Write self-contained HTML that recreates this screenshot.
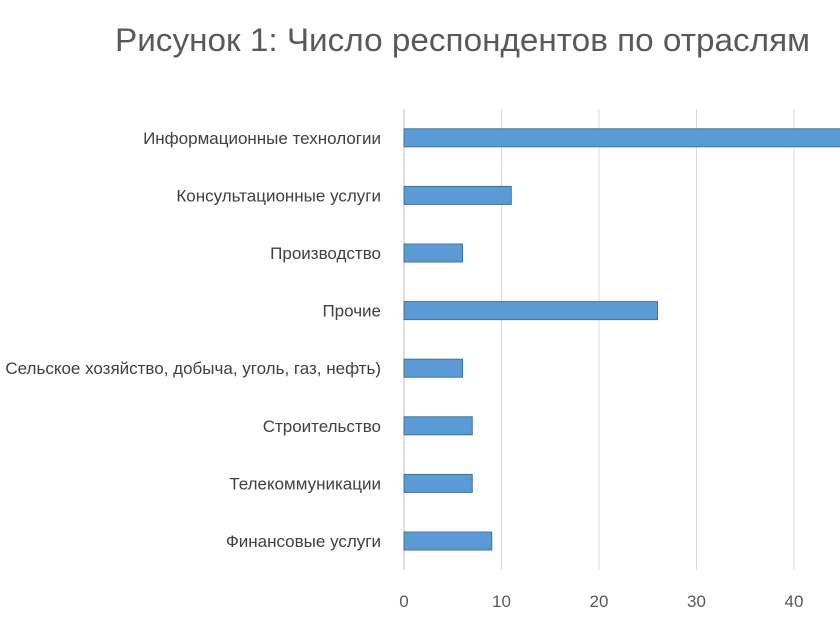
<!DOCTYPE html>
<html><head><meta charset="utf-8"><style>
body{margin:0;background:#fff;}
svg{display:block;font-family:"Liberation Sans","DejaVu Sans",sans-serif;}
</style></head><body>
<svg id="chart" width="840" height="640" viewBox="0 0 840 640">
<text x="115" y="51" font-size="32" fill="#595959" textLength="695" lengthAdjust="spacingAndGlyphs">Рисунок 1: Число респондентов по отраслям</text>
<g id="grid"></g><g id="bars"></g><g id="labels"></g><g id="ticks"></g>
</svg>
<script>
const categories=["Информационные технологии","Консультационные услуги","Производство","Прочие","Сельское хозяйство, добыча, уголь, газ, нефть)","Строительство","Телекоммуникации","Финансовые услуги"];
const values=[46,11,6,26,6,7,7,9];
const tickValues=[0,10,20,30,40];
const NS="http://www.w3.org/2000/svg";
const x0=404,pxPer=9.75,plotTop=109,band=57.6,barH=18;
const xs=v=>x0+v*pxPer;
const yc=i=>plotTop+band*(i+0.5);
function mk(t,a,p){const e=document.createElementNS(NS,t);for(const k in a)e.setAttribute(k,a[k]);p.appendChild(e);return e;}
const grid=document.getElementById('grid'),bars=document.getElementById('bars'),labels=document.getElementById('labels'),ticks=document.getElementById('ticks');
tickValues.forEach(v=>{
 const l=mk('line',{x1:xs(v),x2:xs(v),y1:plotTop,y2:plotTop+band*categories.length,stroke:v===0?'#bfbfbf':'#d9d9d9','stroke-width':1},grid);
 
 
 const t=mk('text',{x:xs(v),y:607,'text-anchor':'middle','font-size':17,fill:'#595959'},ticks);
 t.textContent=v;
 
 
});
categories.forEach((c,i)=>{
 const r=mk('rect',{x:xs(0),y:yc(i)-barH/2,width:xs(values[i])-xs(0),height:barH,fill:'#5b9bd5',stroke:'#41719c','stroke-width':1},bars);
 
 
 const t=mk('text',{x:381,y:yc(i)+6,'text-anchor':'end','font-size':17,fill:'#404040'},labels);
 t.textContent=c;
 
 
});
</script>
</body></html>
